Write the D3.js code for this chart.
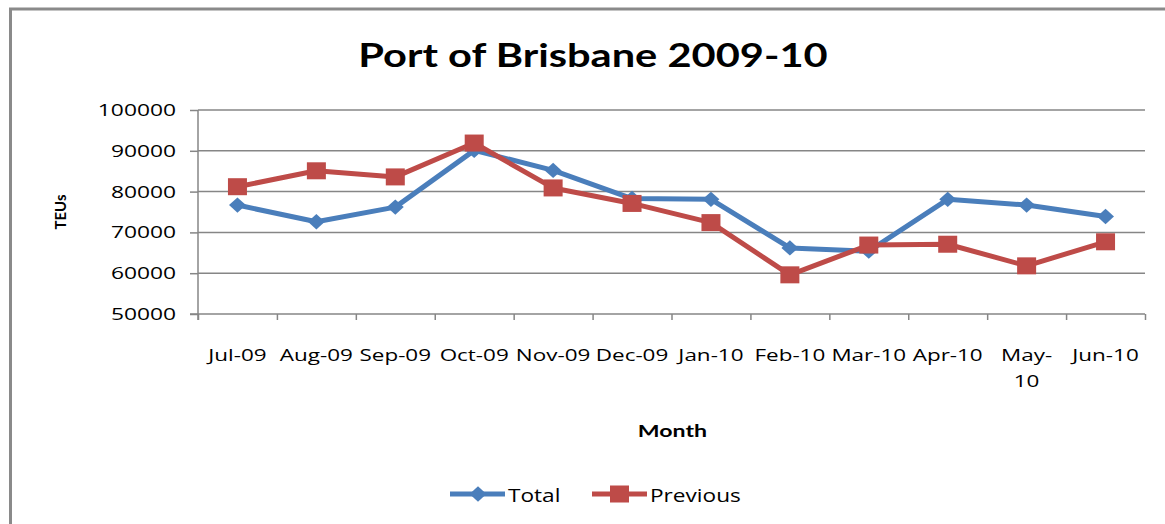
<!DOCTYPE html>
<html>
<head>
<meta charset="utf-8">
<script src="https://cdn.jsdelivr.net/npm/d3@7"></script>
<style>
  body { margin: 0; background: #fff; }
  svg { display: block; font-family: "Open Sans", Lato, sans-serif; }
</style>
</head>
<body>
<div id="chart"></div>
<script>
// Values
const months = ["Jul-09", "Aug-09", "Sep-09", "Oct-09", "Nov-09", "Dec-09",
                "Jan-10", "Feb-10", "Mar-10", "Apr-10", "May-10", "Jun-10"];
const total = [76700, 72600, 76200, 90100, 85200, 78300, 78100, 66200, 65400, 78100, 76700, 73900];
const previous = [81200, 85100, 83600, 91900, 80900, 77100, 72400, 59600, 66900, 67100, 61800, 67700];
const yTicks = [50000, 60000, 70000, 80000, 90000, 100000];
const wrapped = { "May-10": ["May-", "10"] };

const W = 1165, H = 524;
const plot = { left: 198, right: 1145, top: 110, bottom: 314 };
const blue = "#4A7EBB", red = "#BE4B48", grid = "#868686";

// the picture's text is drawn wider than the font: widen it the same way
function stretch(sel, k) {
  sel.each(function () {
    const w = this.getComputedTextLength();
    this.setAttribute("textLength", w * k);
    this.setAttribute("lengthAdjust", "spacingAndGlyphs");
  });
}

const svg = d3.select("#chart").append("svg")
  .attr("width", W).attr("height", H);

// chart frame (runs off the right and bottom edges)
svg.append("rect")
  .attr("x", 10.5).attr("y", 9).attr("width", W + 20).attr("height", H + 20)
  .attr("fill", "none").attr("stroke", "#8a8a8a").attr("stroke-width", 3);

const x = d3.scaleBand().domain(months).range([plot.left, plot.right]);
const xEdge = d3.scaleLinear().domain([0, months.length]).range([plot.left, plot.right]);
const y = d3.scaleLinear().domain([50000, 100000]).range([plot.bottom, plot.top]);

// gridlines
svg.append("g")
  .selectAll("line")
  .data(yTicks.slice(1))
  .join("line")
  .attr("x1", plot.left).attr("x2", plot.right)
  .attr("y1", d => y(d)).attr("y2", d => y(d))
  .attr("stroke", grid).attr("stroke-width", 1.5);

// y axis
const yAxis = svg.append("g")
  .attr("transform", `translate(${plot.left},0)`)
  .call(d3.axisLeft(y).tickValues(yTicks).tickSize(8).tickPadding(14)
    .tickFormat(d3.format("d")));
yAxis.select(".domain").attr("stroke", grid).attr("stroke-width", 1.5)
  .attr("d", `M0,${plot.top}V${plot.bottom + 6}`);
yAxis.selectAll(".tick line").attr("stroke", grid).attr("stroke-width", 1.5);
yAxis.selectAll(".tick text")
  .attr("font-family", "Open Sans").attr("font-size", 17).attr("fill", "#000")
  .call(stretch, 1.34);

// x axis (ticks on category edges)
const xAxis = svg.append("g")
  .attr("transform", `translate(0,${plot.bottom})`)
  .call(d3.axisBottom(xEdge).tickValues(d3.range(months.length + 1))
    .tickSize(6).tickFormat(""));
xAxis.select(".domain").attr("stroke", grid).attr("stroke-width", 1.5)
  .attr("d", `M${plot.left - 8},0H${plot.right}`);
xAxis.selectAll(".tick line").attr("stroke", grid).attr("stroke-width", 1.5);

// category labels
const xl = svg.append("g");
months.forEach(m => {
  const lines = wrapped[m] || [m];
  lines.forEach((t, i) => {
    xl.append("text")
      .attr("x", x(m) + x.bandwidth() / 2)
      .attr("y", 361 + i * 26)
      .attr("text-anchor", "middle")
      .attr("font-size", 16.5)
      .text(t);
  });
});
stretch(xl.selectAll("text"), 1.36);

// series
const line = d3.line()
  .x((d, i) => x(months[i]) + x.bandwidth() / 2)
  .y(d => y(d));

const diamond = d3.symbol().type(d3.symbolDiamond2).size(150);

const gTotal = svg.append("g");
gTotal.append("path").datum(total)
  .attr("d", line).attr("fill", "none")
  .attr("stroke", blue).attr("stroke-width", 5).attr("stroke-linejoin", "round");
gTotal.selectAll("path.mk").data(total).join("path")
  .attr("class", "mk")
  .attr("d", diamond)
  .attr("transform", (d, i) =>
    `translate(${x(months[i]) + x.bandwidth() / 2},${y(d)}) scale(1.1,1)`)
  .attr("fill", blue);

const gPrev = svg.append("g");
gPrev.append("path").datum(previous)
  .attr("d", line).attr("fill", "none")
  .attr("stroke", red).attr("stroke-width", 5).attr("stroke-linejoin", "round");
gPrev.selectAll("rect").data(previous).join("rect")
  .attr("x", (d, i) => x(months[i]) + x.bandwidth() / 2 - 9.5)
  .attr("y", d => y(d) - 8.5)
  .attr("width", 19).attr("height", 17)
  .attr("fill", red);

// title
svg.append("text")
  .attr("x", 593).attr("y", 67)
  .attr("text-anchor", "middle")
  .attr("font-family", "Lato")
  .attr("font-weight", "bold").attr("font-size", 33)
  .text("Port of Brisbane 2009-10")
  .call(stretch, 1.26);

// axis titles
svg.append("text")
  .attr("transform", "translate(66,212) rotate(-90)")
  .attr("text-anchor", "middle")
  .attr("font-family", "Lato")
  .attr("font-weight", "bold").attr("font-size", 15)
  .text("TEUs");

svg.append("text")
  .attr("x", (plot.left + plot.right) / 2 + 1).attr("y", 437)
  .attr("text-anchor", "middle")
  .attr("font-family", "Lato")
  .attr("font-weight", "bold").attr("font-size", 17.5)
  .text("Month")
  .call(stretch, 1.32);

// legend
const legend = svg.append("g").attr("transform", "translate(450,494)");
const items = [
  { name: "Total", color: blue, shape: "diamond", x: 0 },
  { name: "Previous", color: red, shape: "square", x: 142 }
];
items.forEach(it => {
  const g = legend.append("g").attr("transform", `translate(${it.x},0)`);
  g.append("line").attr("x1", 0).attr("x2", 55).attr("y1", 0).attr("y2", 0)
    .attr("stroke", it.color).attr("stroke-width", 5);
  if (it.shape === "diamond") {
    g.append("path").attr("d", diamond).attr("transform", "translate(28,0) scale(1.1,1)")
      .attr("fill", it.color);
  } else {
    g.append("rect").attr("x", 18).attr("y", -8.5).attr("width", 19).attr("height", 17)
      .attr("fill", it.color);
  }
  g.append("text").attr("x", 58).attr("y", 7.5)
    .attr("font-size", 19).text(it.name)
    .call(stretch, 1.19);
});
</script>
</body>
</html>
